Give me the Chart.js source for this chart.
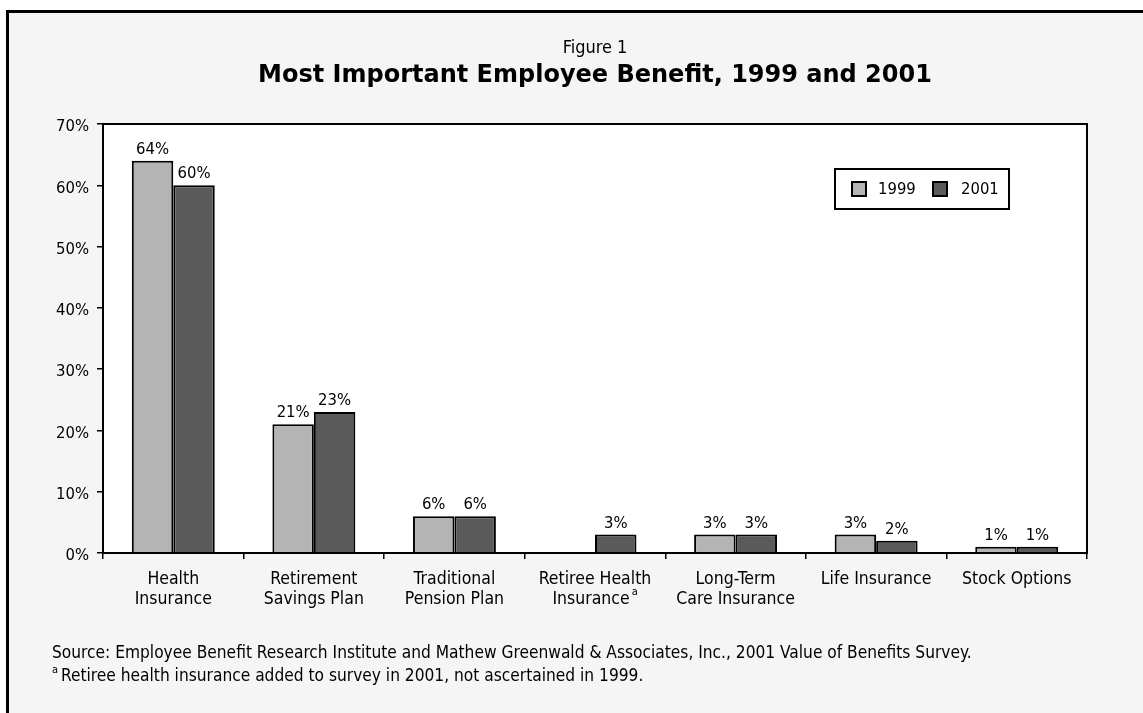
<!DOCTYPE html>
<html>
<head>
<meta charset="utf-8">
<script src="https://cdn.jsdelivr.net/npm/chart.js@4.4.1/dist/chart.umd.min.js"></script>
<style>
  html, body { margin: 0; padding: 0; background: #fff; overflow: hidden; }
  #wrap { width: 1143px; height: 713px; position: relative; }
</style>
</head>
<body>
<div id="wrap"><canvas id="chart"></canvas></div>
<script>
// Chart data
const categories = [
    ["Health", "Insurance"],
    ["Retirement", "Savings Plan"],
    ["Traditional", "Pension Plan"],
    ["Retiree Health", "Insurance\u2002"],
    ["Long-Term", "Care Insurance"],
    ["Life Insurance"],
    ["Stock Options"]
];
const noteIndex = 3; // category carrying footnote mark "a"
const years = ["1999", "2001"];
const values1999 = [64, 21, 6, null, 3, 3, 1];
const values2001 = [60, 23, 6, 3, 3, 2, 1];
const yTicks = [0, 10, 20, 30, 40, 50, 60, 70];

const figureLabel = "Figure 1";
const chartTitle = "Most Important Employee Benefit, 1999 and 2001";
const sourceNote = "Source: Employee Benefit Research Institute and Mathew Greenwald & Associates, Inc., 2001 Value of Benefits Survey.";
const footNote = "Retiree health insurance added to survey in 2001, not ascertained in 1999.";

const NARROW = '"Liberation Sans Narrow", "DejaVu Sans Condensed", sans-serif';
const XFONT = 17.5;

// Frame, backgrounds, titles and notes
const framePlugin = {
    id: "frame",
    beforeDraw(chart) {
        const c = chart.ctx;
        const a = chart.chartArea;
        c.save();
        c.fillStyle = "#ffffff";
        c.fillRect(0, 0, chart.width, chart.height);
        c.fillStyle = "#f5f5f5";
        c.fillRect(8, 12, chart.width - 8, chart.height - 12);
        c.fillStyle = "#000";
        c.fillRect(6, 10, chart.width - 6, 3);
        c.fillRect(6, 10, 3, chart.height - 10);
        c.fillStyle = "#ffffff";
        c.fillRect(a.left, a.top, a.right - a.left, a.bottom - a.top);

        const cx = (a.left + a.right) / 2;
        c.fillStyle = "#000";
        c.textAlign = "center";
        c.textBaseline = "middle";
        c.font = "18px " + NARROW;
        c.fillText(figureLabel, cx, 48);
        c.font = "bold 24px 'DejaVu Sans', sans-serif";
        c.fillText(chartTitle, cx, 76);

        c.textAlign = "left";
        c.textBaseline = "alphabetic";
        c.font = "17.2px " + NARROW;
        c.fillText(sourceNote, 52, 658);
        c.font = "11px " + NARROW;
        c.fillText("a", 52, 673);
        c.font = "17.2px " + NARROW;
        c.fillText(footNote, 61, 681);
        c.restore();
    },
    afterDatasetsDraw(chart) {
        const c = chart.ctx;
        const a = chart.chartArea;
        c.save();
        // value labels
        c.fillStyle = "#000";
        c.font = "16.5px " + NARROW;
        c.textAlign = "center";
        c.textBaseline = "bottom";
        chart.data.datasets.forEach((ds, i) => {
            chart.getDatasetMeta(i).data.forEach((bar, j) => {
                const v = ds.data[j];
                if (v === null) return;
                c.fillText(v + "%", bar.x, bar.y - 3);
            });
        });
        // plot border
        c.strokeStyle = "#000";
        c.lineWidth = 2;
        c.strokeRect(a.left, a.top, a.right - a.left, a.bottom - a.top);
        // legend box
        const bx = a.right - 252, by = a.top + 45;
        c.fillStyle = "#fff";
        c.fillRect(bx, by, 174, 40);
        c.lineWidth = 2;
        c.strokeRect(bx, by, 174, 40);
        const items = [[bx + 17, bx + 43], [bx + 98, bx + 126]];
        chart.data.datasets.forEach((ds, i) => {
            c.fillStyle = ds.backgroundColor;
            c.fillRect(items[i][0], by + 13, 14, 14);
            c.lineWidth = 2;
            c.strokeRect(items[i][0], by + 13, 14, 14);
            c.fillStyle = "#000";
            c.textAlign = "left";
            c.textBaseline = "middle";
            c.font = "16.5px " + NARROW;
            c.fillText(ds.label, items[i][1], by + 21);
        });
        // superscript footnote mark on the category label
        const xs = chart.scales.x;
        const line = categories[noteIndex][1];
        c.font = XFONT + "px " + NARROW;
        const w = c.measureText(line).width;
        const wText = c.measureText(line.trim()).width;
        const lx = xs.getPixelForTick(noteIndex) - w / 2 + wText + 2;
        const lineTop = a.bottom + 6 + 10 + XFONT * 1.15;
        c.font = "11px " + NARROW;
        c.textAlign = "left";
        c.textBaseline = "top";
        c.fillStyle = "#000";
        c.fillText("a", lx, lineTop - 2);
        c.restore();
    }
};

const ctx = document.getElementById("chart").getContext("2d");

new Chart(ctx, {
    type: "bar",
    data: {
        labels: categories,
        datasets: [
            {
                label: years[0],
                data: values1999,
                backgroundColor: "#b4b4b4",
                borderColor: "#000",
                borderWidth: 2,
                categoryPercentage: 0.59,
                barPercentage: 1.0
            },
            {
                label: years[1],
                data: values2001,
                backgroundColor: "#5a5a5a",
                borderColor: "#000",
                borderWidth: 2,
                categoryPercentage: 0.59,
                barPercentage: 1.0
            }
        ]
    },
    options: {
        responsive: true,
        maintainAspectRatio: false,
        animation: false,
        layout: {
            padding: { left: 8, top: 124, right: 56, bottom: 53 }
        },
        plugins: {
            legend: { display: false },
            title: { display: false },
            tooltip: { enabled: false }
        },
        scales: {
            x: {
                afterFit: (s) => { s.height = 107; },
                ticks: {
                    color: "#000",
                    font: { family: NARROW, size: XFONT, lineHeight: 1.15 },
                    padding: 10,
                    maxRotation: 0,
                    autoSkip: false
                },
                grid: {
                    offset: true,
                    drawOnChartArea: false,
                    color: "#000",
                    lineWidth: 1.5,
                    tickLength: 6
                },
                border: { color: "#000", width: 2 }
            },
            y: {
                min: yTicks[0],
                max: yTicks[yTicks.length - 1],
                afterFit: (s) => { s.width = 95; },
                afterBuildTicks: (s) => { s.ticks = yTicks.map(v => ({ value: v })); },
                ticks: {
                    color: "#000",
                    font: { family: NARROW, size: 16.5 },
                    padding: 8,
                    labelOffset: 3,
                    callback: (v) => v + "%"
                },
                grid: {
                    drawOnChartArea: false,
                    color: "#000",
                    lineWidth: 1.5,
                    tickLength: 6
                },
                border: { color: "#000", width: 2 }
            }
        }
    },
    plugins: [framePlugin]
});
</script>
</body>
</html>
